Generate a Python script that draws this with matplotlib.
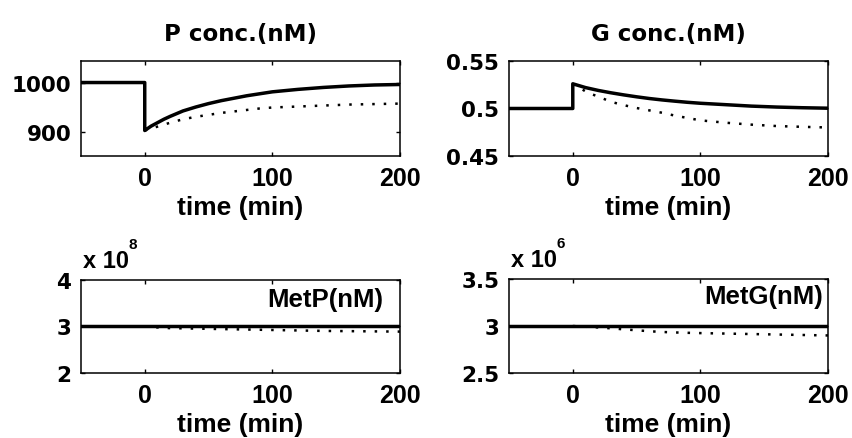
import numpy as np
import matplotlib
matplotlib.use('Agg')
import matplotlib.pyplot as plt
from matplotlib.ticker import FuncFormatter

# time before the switch (min)
t_pre = [-50, 0]
# time after the switch (min)
t_post = [0, 5, 10, 15, 20, 30, 40, 50, 60, 70, 80, 90, 100, 120, 140, 160, 180, 200]

# P conc. (nM)
p_base = [1000, 1000]
p_solid = [902, 911, 918, 925, 931, 942, 950, 957, 963, 968, 973, 977, 981, 986, 990, 993, 995, 996]
p_dot = [902, 906, 910, 914, 918, 925, 930, 934, 938, 941, 944, 947, 949, 951, 953, 955, 956, 957]

# G conc. (nM)
g_base = [0.5, 0.5]
g_solid = [0.526, 0.524, 0.522, 0.5205, 0.519, 0.5165, 0.5143, 0.5123, 0.5105, 0.509, 0.5077,
           0.5065, 0.5055, 0.504, 0.5025, 0.5015, 0.5008, 0.5003]
g_dot = [0.526, 0.522, 0.518, 0.515, 0.5125, 0.507, 0.5035, 0.5005, 0.498, 0.4955, 0.4925,
         0.49, 0.4875, 0.485, 0.483, 0.4815, 0.4807, 0.48]

# MetP (nM)
metp_base = [3.0e8, 3.0e8]
metp_solid = [3.01e8] * 18
metp_dot = [3.0e8, 2.99e8, 2.98e8, 2.97e8, 2.965e8, 2.96e8, 2.955e8, 2.95e8, 2.945e8, 2.94e8,
            2.935e8, 2.93e8, 2.925e8, 2.915e8, 2.905e8, 2.9e8, 2.895e8, 2.89e8]

# MetG (nM)
metg_base = [3.0e6, 3.0e6]
metg_solid = [3.0e6] * 18
metg_dot = [3.0e6, 2.998e6, 2.993e6, 2.989e6, 2.985e6, 2.976e6, 2.965e6, 2.955e6, 2.945e6,
            2.937e6, 2.932e6, 2.928e6, 2.925e6, 2.92e6, 2.915e6, 2.91e6, 2.905e6, 2.9e6]

plt.rcParams['font.family'] = 'DejaVu Sans'
plt.rcParams['font.weight'] = 'bold'
ARIAL = 'Liberation Sans'


def panel(ax, base, solid, dot, ylim, yticks, scale=None, title=None, inner=None, inner_pos=None):
    ax.plot(t_post, dot, color='black', lw=1.8, dashes=(1, 3.6))
    ax.plot(t_pre + t_post, base + solid, color='black', lw=2.5)
    ax.set_xlim(-50, 200)
    ax.set_ylim(*ylim)
    ax.set_xticks([0, 100, 200])
    ax.set_yticks(yticks)
    ax.tick_params(direction='in', length=3, width=1, top=True, right=True, pad=7)
    ax.tick_params(axis='y', labelsize=15.5)
    for lab in ax.get_xticklabels():
        lab.set_fontfamily(ARIAL)
        lab.set_fontsize(18)
        lab.set_fontweight('bold')
    for sp in ax.spines.values():
        sp.set_linewidth(1.1)
    ax.set_xlabel('time (min)', family=ARIAL, fontsize=19, fontweight='bold', labelpad=4)
    if title:
        ax.set_title(title, fontsize=16.5, fontweight='bold', pad=15)
    if scale:
        ax.yaxis.set_major_formatter(FuncFormatter(lambda v, p: '%g' % (v / 10 ** scale)))
        ax.annotate('x 10', xy=(0, 1), xycoords='axes fraction', xytext=(1.5, 9.4),
                    textcoords='offset points', family=ARIAL, fontsize=17,
                    fontweight='bold', va='baseline', ha='left')
        ax.annotate(str(scale), xy=(0, 1), xycoords='axes fraction', xytext=(34.5, 23),
                    textcoords='offset points', family=ARIAL, fontsize=11,
                    fontweight='bold', va='baseline', ha='left')
    if inner:
        ax.text(inner_pos[0], inner_pos[1], inner, transform=ax.transAxes, family=ARIAL,
                fontsize=18.5, fontweight='bold', ha='right', va='baseline')


fig = plt.figure(figsize=(8.52, 4.39), dpi=100)
ax1 = fig.add_axes([0.095, 0.6424, 0.3744, 0.2164])
ax2 = fig.add_axes([0.5974, 0.6424, 0.3744, 0.2164])
ax3 = fig.add_axes([0.095, 0.148, 0.3744, 0.212])
ax4 = fig.add_axes([0.5974, 0.148, 0.3744, 0.214])

panel(ax1, p_base, p_solid, p_dot, (850, 1044), [900, 1000], title='P conc.(nM)')
panel(ax2, g_base, g_solid, g_dot, (0.45, 0.55), [0.45, 0.5, 0.55], title='G conc.(nM)')
ax2.yaxis.set_major_formatter(FuncFormatter(lambda v, p: '%g' % v))
panel(ax3, metp_base, metp_solid, metp_dot, (2e8, 4e8), [2e8, 3e8, 4e8], scale=8,
      inner='MetP(nM)', inner_pos=(0.947, 0.72))
panel(ax4, metg_base, metg_solid, metg_dot, (2.5e6, 3.5e6), [2.5e6, 3e6, 3.5e6], scale=6,
      inner='MetG(nM)', inner_pos=(0.984, 0.75))

fig.savefig('out.png', dpi=100)
